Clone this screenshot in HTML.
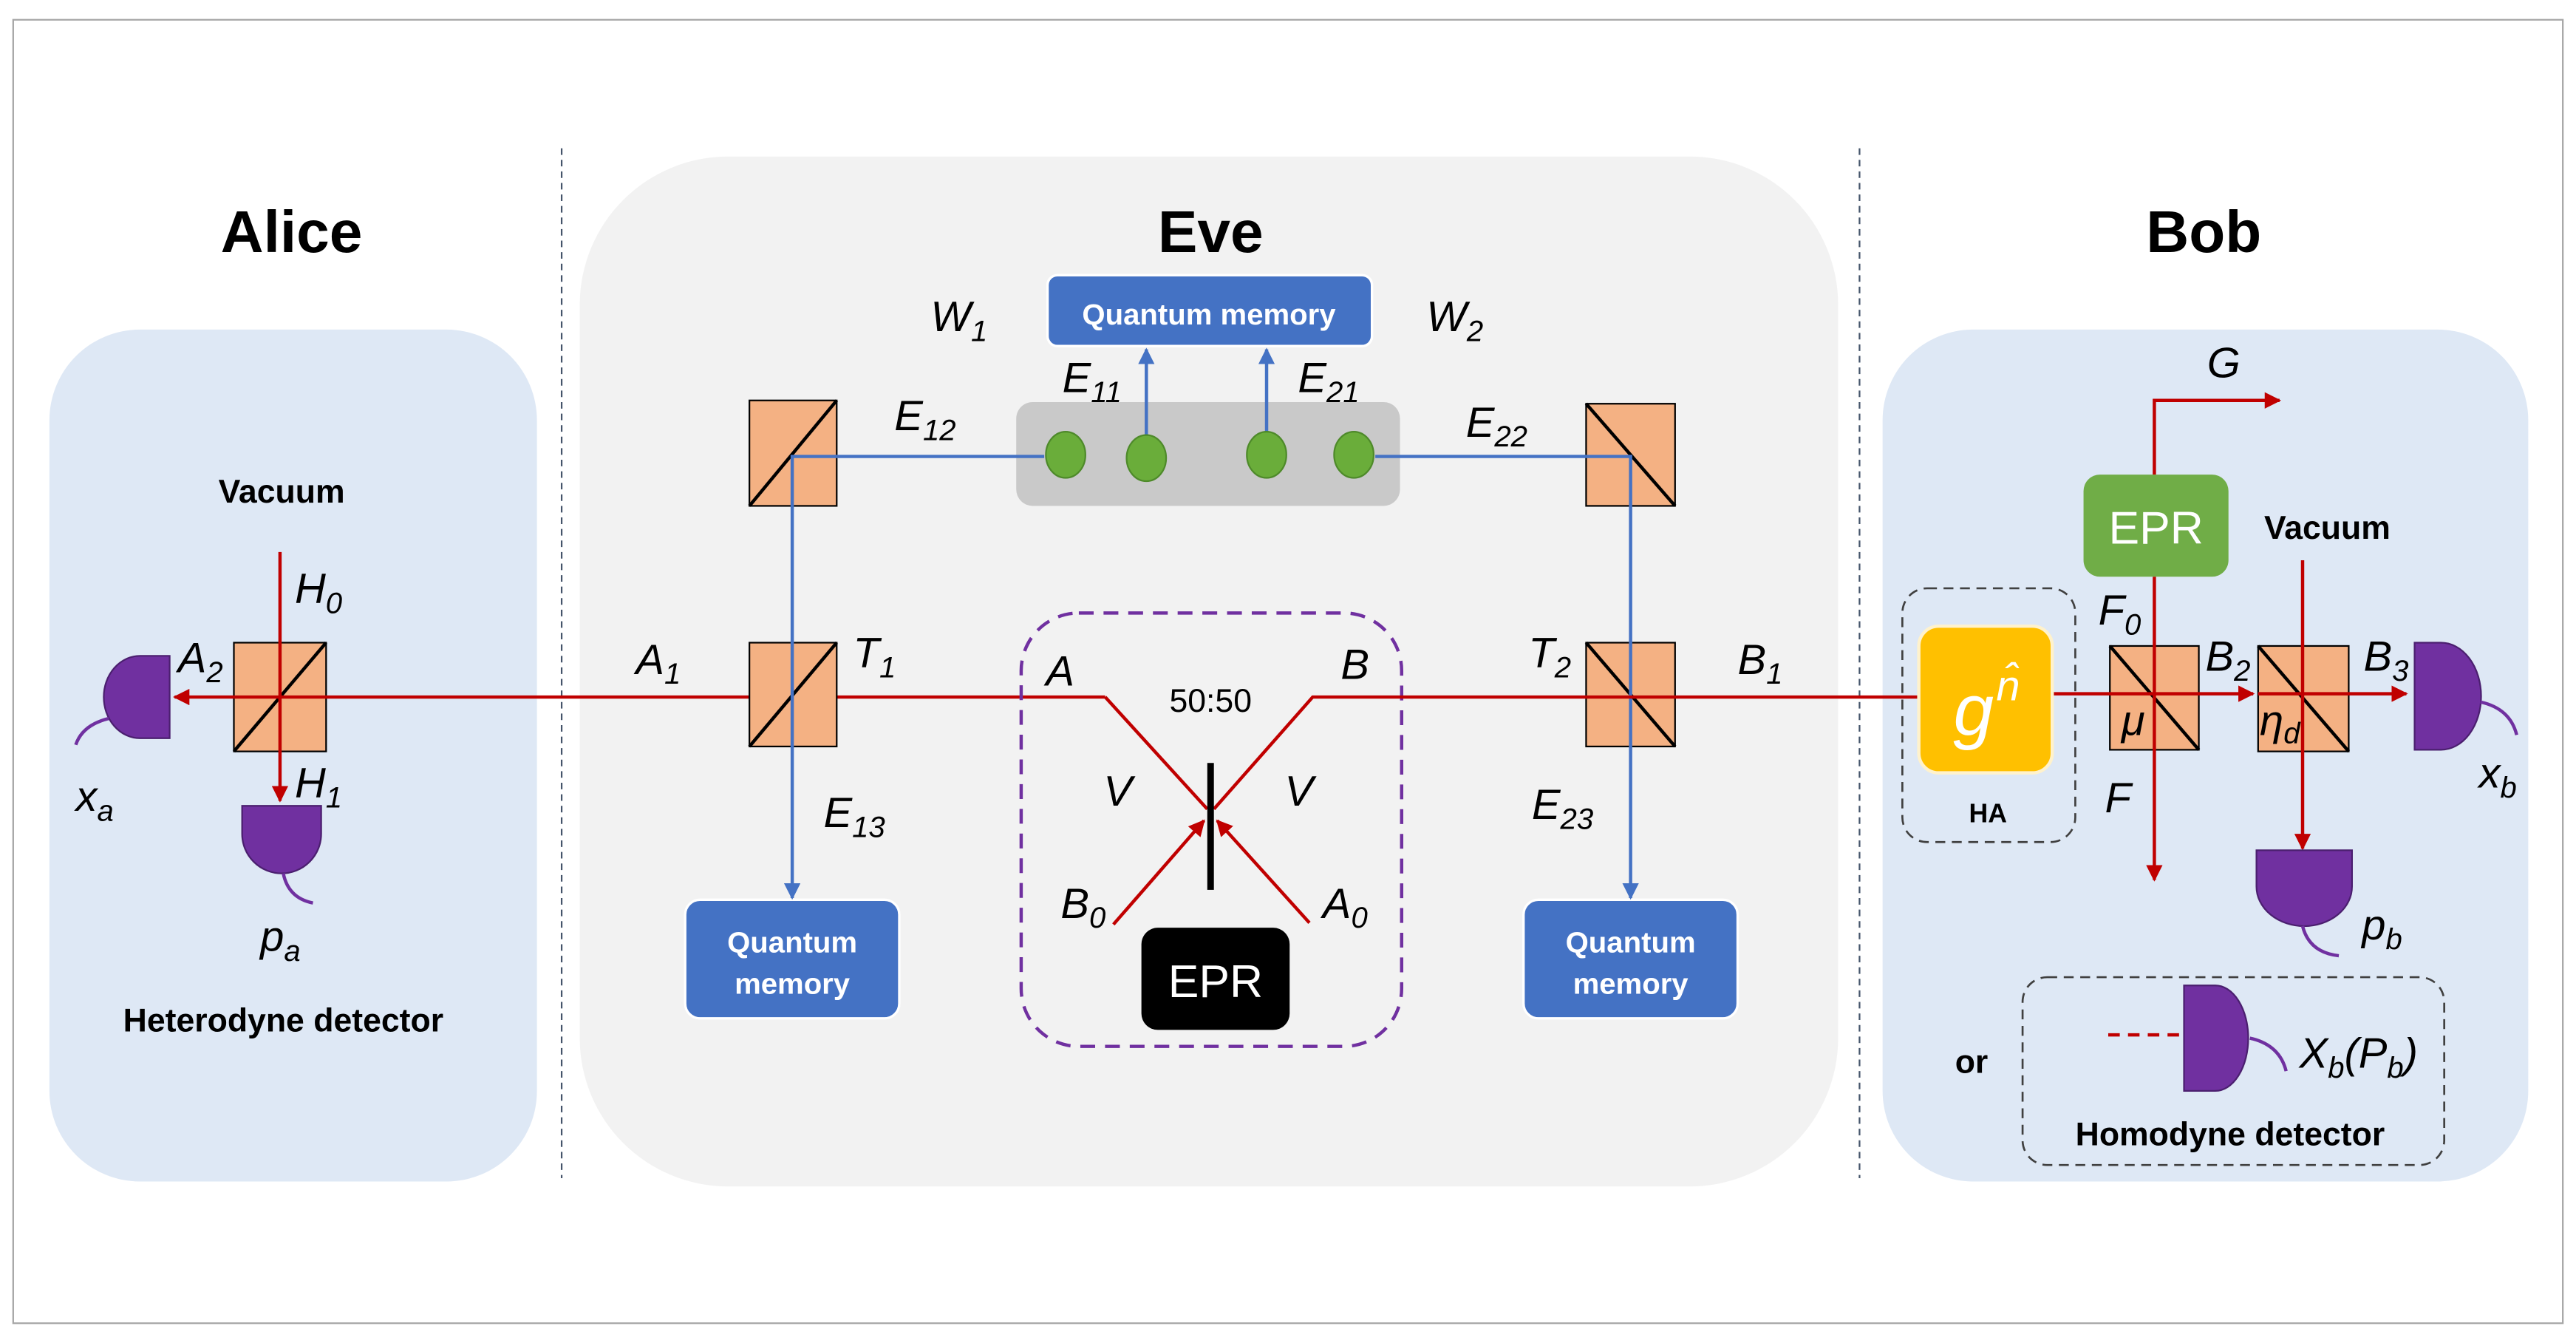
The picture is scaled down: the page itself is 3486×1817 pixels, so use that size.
<!DOCTYPE html>
<html><head><meta charset="utf-8"><style>
html,body{margin:0;padding:0;background:#fff;}
svg{display:block;}
text{font-family:"Liberation Sans",sans-serif;}
.t{font-weight:bold;font-size:36px;text-anchor:middle;}
.b{font-weight:bold;font-size:20px;text-anchor:middle;}
.i{font-style:italic;font-size:26px;}
.s{font-size:18px;}
.w{fill:#fff;font-weight:bold;font-size:18px;text-anchor:middle;}
</style></head><body>
<svg width="3486" height="1817" viewBox="0 0 1564 815" preserveAspectRatio="none" xmlns="http://www.w3.org/2000/svg">
<defs>
<marker id="ar" viewBox="0 0 10 10" refX="9" refY="5" markerWidth="5" markerHeight="5" orient="auto"><path d="M0,0L10,5L0,10z" fill="#c00000"/></marker>
<marker id="ab" viewBox="0 0 10 10" refX="9" refY="5" markerWidth="5" markerHeight="5" orient="auto"><path d="M0,0L10,5L0,10z" fill="#4472c4"/></marker>
</defs>
<rect x="8" y="12" width="1548" height="791" fill="#fff" stroke="#a6a6a6" stroke-width="1"/>
<line x1="341" y1="90" x2="341" y2="715" stroke="#44546a" stroke-width="1" stroke-dasharray="4,3"/>
<line x1="1129" y1="90" x2="1129" y2="715" stroke="#44546a" stroke-width="1" stroke-dasharray="4,3"/>
<rect x="30" y="200" width="296" height="517" rx="55" fill="#dee8f5"/>
<rect x="352" y="95" width="764" height="625" rx="90" fill="#f2f2f2"/>
<rect x="1143" y="200" width="392" height="517" rx="55" fill="#dee8f5"/>
<text class="t" x="177" y="153">Alice</text>
<text class="t" x="735" y="153">Eve</text>
<text class="t" x="1338" y="153">Bob</text>

<!-- Alice -->
<text class="b" x="171" y="305">Vacuum</text>
<rect x="142" y="390" width="56" height="66" fill="#f4b183" stroke="#000" stroke-width="1"/>
<line x1="142" y1="456" x2="198" y2="390" stroke="#000" stroke-width="2"/>
<line x1="170" y1="335" x2="170" y2="486" stroke="#c00000" stroke-width="2" marker-end="url(#ar)"/>
<line x1="671" y1="423" x2="106" y2="423" stroke="#c00000" stroke-width="2" marker-end="url(#ar)"/>
<path d="M103,398 L85,398 A22,25 0 0 0 85,448 L103,448 Z" fill="#7030a0" stroke="#4b1f6f" stroke-width="1"/>
<path d="M66,436 Q50,440 46,452" fill="none" stroke="#7030a0" stroke-width="2"/>
<path d="M147,489 L195,489 L195,506 A24,24 0 0 1 147,506 Z" fill="#7030a0" stroke="#4b1f6f" stroke-width="1"/>
<path d="M172,530 Q175,545 190,548" fill="none" stroke="#7030a0" stroke-width="2"/>
<text class="i" x="108" y="408">A<tspan class="s" dy="6">2</tspan></text>
<text class="i" x="179" y="366">H<tspan class="s" dy="6">0</tspan></text>
<text class="i" x="179" y="484">H<tspan class="s" dy="6">1</tspan></text>
<text class="i" x="46" y="492">x<tspan class="s" dy="6">a</tspan></text>
<text class="i" x="158" y="577">p<tspan class="s" dy="6">a</tspan></text>
<text class="b" x="172" y="626">Heterodyne detector</text>

<!-- Eve -->
<rect x="455" y="243" width="53" height="64" fill="#f4b183" stroke="#000" stroke-width="1"/>
<line x1="455" y1="307" x2="508" y2="243" stroke="#000" stroke-width="2"/>
<rect x="455" y="390" width="53" height="63" fill="#f4b183" stroke="#000" stroke-width="1"/>
<line x1="455" y1="453" x2="508" y2="390" stroke="#000" stroke-width="2"/>
<rect x="617" y="244" width="233" height="63" rx="10" fill="#c9c9c9"/>
<rect x="636" y="167" width="197" height="43" rx="6" fill="#4472c4" stroke="#fff" stroke-width="1.5"/>
<text class="w" x="734" y="197">Quantum memory</text>
<rect x="416" y="546" width="130" height="72" rx="9" fill="#4472c4" stroke="#fff" stroke-width="1.5"/>
<text class="w" x="481" y="578">Quantum</text><text class="w" x="481" y="603">memory</text>
<rect x="925" y="546" width="130" height="72" rx="9" fill="#4472c4" stroke="#fff" stroke-width="1.5"/>
<text class="w" x="990" y="578">Quantum</text><text class="w" x="990" y="603">memory</text>
<rect x="963" y="245" width="54" height="62" fill="#f4b183" stroke="#000" stroke-width="1"/>
<line x1="963" y1="245" x2="1017" y2="307" stroke="#000" stroke-width="2"/>
<rect x="963" y="390" width="54" height="63" fill="#f4b183" stroke="#000" stroke-width="1"/>
<line x1="963" y1="390" x2="1017" y2="453" stroke="#000" stroke-width="2"/>
<polyline points="634,277 481,277 481,545" fill="none" stroke="#4472c4" stroke-width="2" marker-end="url(#ab)"/>
<polyline points="835,277 990,277 990,545" fill="none" stroke="#4472c4" stroke-width="2" marker-end="url(#ab)"/>
<line x1="696" y1="265" x2="696" y2="212" stroke="#4472c4" stroke-width="2" marker-end="url(#ab)"/>
<line x1="769" y1="265" x2="769" y2="212" stroke="#4472c4" stroke-width="2" marker-end="url(#ab)"/>
<g fill="#6aad3a" stroke="#4e8a2a" stroke-width="1">
<ellipse cx="647" cy="276" rx="12" ry="14"/><ellipse cx="696" cy="278" rx="12" ry="14"/>
<ellipse cx="769" cy="276" rx="12" ry="14"/><ellipse cx="822" cy="276" rx="12" ry="14"/></g>
<text class="i" x="565" y="201">W<tspan class="s" dy="6">1</tspan></text>
<text class="i" x="866" y="201">W<tspan class="s" dy="6">2</tspan></text>
<text class="i" x="645" y="238">E<tspan class="s" dy="6">11</tspan></text>
<text class="i" x="788" y="238">E<tspan class="s" dy="6">21</tspan></text>
<text class="i" x="543" y="261">E<tspan class="s" dy="6">12</tspan></text>
<text class="i" x="890" y="265">E<tspan class="s" dy="6">22</tspan></text>
<text class="i" x="386" y="409">A<tspan class="s" dy="6">1</tspan></text>
<text class="i" x="518" y="405">T<tspan class="s" dy="6">1</tspan></text>
<text class="i" x="500" y="502">E<tspan class="s" dy="6">13</tspan></text>
<text class="i" x="928" y="405">T<tspan class="s" dy="6">2</tspan></text>
<text class="i" x="1055" y="409">B<tspan class="s" dy="6">1</tspan></text>
<text class="i" x="930" y="497">E<tspan class="s" dy="6">23</tspan></text>

<rect x="620" y="372" width="231" height="263" rx="35" fill="none" stroke="#7030a0" stroke-width="2" stroke-dasharray="9,6"/>
<polyline points="671,423 733,491" fill="none" stroke="#c00000" stroke-width="2"/>
<polyline points="1165,423 797,423 737,491" fill="none" stroke="#c00000" stroke-width="2"/>
<line x1="676" y1="561" x2="731" y2="498" stroke="#c00000" stroke-width="2" marker-end="url(#ar)"/>
<line x1="795" y1="560" x2="739" y2="498" stroke="#c00000" stroke-width="2" marker-end="url(#ar)"/>
<rect x="733" y="463" width="4" height="77" fill="#000"/>
<text x="735" y="432" font-size="20" text-anchor="middle">50:50</text>
<text class="i" x="635" y="416">A</text>
<text class="i" x="814" y="412">B</text>
<text class="i" x="670" y="489">V</text>
<text class="i" x="780" y="489">V</text>
<text class="i" x="644" y="557">B<tspan class="s" dy="6">0</tspan></text>
<text class="i" x="803" y="557">A<tspan class="s" dy="6">0</tspan></text>
<rect x="693" y="563" width="90" height="62" rx="10" fill="#000"/>
<text x="738" y="605" font-size="28" fill="#fff" text-anchor="middle">EPR</text>

<!-- Bob -->
<rect x="1155" y="357" width="105" height="154" rx="15" fill="none" stroke="#404040" stroke-width="1.2" stroke-dasharray="6,4"/>
<polyline points="1308,288 1308,243 1384,243" fill="none" stroke="#c00000" stroke-width="2" marker-end="url(#ar)"/>
<rect x="1281" y="392" width="54" height="63" fill="#f4b183" stroke="#000" stroke-width="1"/>
<line x1="1281" y1="392" x2="1335" y2="455" stroke="#000" stroke-width="2"/>
<rect x="1371" y="392" width="55" height="64" fill="#f4b183" stroke="#000" stroke-width="1"/>
<line x1="1371" y1="392" x2="1426" y2="456" stroke="#000" stroke-width="2"/>
<line x1="1308" y1="350" x2="1308" y2="534" stroke="#c00000" stroke-width="2" marker-end="url(#ar)"/>
<line x1="1398" y1="340" x2="1398" y2="515" stroke="#c00000" stroke-width="2" marker-end="url(#ar)"/>
<line x1="1246" y1="421" x2="1368" y2="421" stroke="#c00000" stroke-width="2" marker-end="url(#ar)"/>
<line x1="1371" y1="421" x2="1461" y2="421" stroke="#c00000" stroke-width="2" marker-end="url(#ar)"/>
<rect x="1165" y="380" width="81" height="89" rx="12" fill="#ffc000" stroke="#fff2cc" stroke-width="2"/>
<text x="1186" y="446" font-family="Liberation Serif,serif" font-style="italic" font-size="44" fill="#fff">g</text>
<text x="1212" y="425" font-family="Liberation Serif,serif" font-style="italic" font-size="26" fill="#fff">n̂</text>
<text x="1207" y="499" font-weight="bold" font-size="16" text-anchor="middle">HA</text>
<rect x="1265" y="288" width="88" height="62" rx="10" fill="#70ad47"/>
<text x="1309" y="330" font-size="28" fill="#fff" text-anchor="middle">EPR</text>
<text class="b" x="1413" y="327">Vacuum</text>
<text class="i" x="1340" y="229">G</text>
<text class="i" x="1274" y="379">F<tspan class="s" dy="6">0</tspan></text>
<text class="i" x="1278" y="493">F</text>
<text class="i" x="1288" y="446" font-size="24">μ</text>
<text class="i" x="1339" y="407">B<tspan class="s" dy="6">2</tspan></text>
<text class="i" x="1372" y="446" font-size="24">η<tspan class="s" dy="5">d</tspan></text>
<text class="i" x="1435" y="407">B<tspan class="s" dy="6">3</tspan></text>
<path d="M1466,390 L1482,390 A24,32 0 0 1 1482,455 L1466,455 Z" fill="#7030a0" stroke="#4b1f6f" stroke-width="1"/>
<path d="M1506,426 Q1524,430 1528,446" fill="none" stroke="#7030a0" stroke-width="2"/>
<text class="i" x="1505" y="478">x<tspan class="s" dy="6">b</tspan></text>
<path d="M1370,516 L1428,516 L1428,538 A29,24 0 0 1 1370,538 Z" fill="#7030a0" stroke="#4b1f6f" stroke-width="1"/>
<path d="M1398,562 Q1402,578 1420,580" fill="none" stroke="#7030a0" stroke-width="2"/>
<text class="i" x="1434" y="570">p<tspan class="s" dy="6">b</tspan></text>
<rect x="1228" y="593" width="256" height="114" rx="15" fill="none" stroke="#404040" stroke-width="1.2" stroke-dasharray="6,4"/>
<text class="b" x="1197" y="651" font-size="22">or</text>
<line x1="1280" y1="628" x2="1326" y2="628" stroke="#c00000" stroke-width="2" stroke-dasharray="7,5"/>
<path d="M1326,598 L1345,598 A20,32 0 0 1 1345,662 L1326,662 Z" fill="#7030a0" stroke="#4b1f6f" stroke-width="1"/>
<path d="M1366,630 Q1384,634 1388,650" fill="none" stroke="#7030a0" stroke-width="2"/>
<text class="i" x="1396" y="648">X<tspan class="s" dy="6">b</tspan><tspan dy="-6">(P</tspan><tspan class="s" dy="6">b</tspan><tspan dy="-6">)</tspan></text>
<text class="b" x="1354" y="695">Homodyne detector</text>
</svg>
</body></html>
